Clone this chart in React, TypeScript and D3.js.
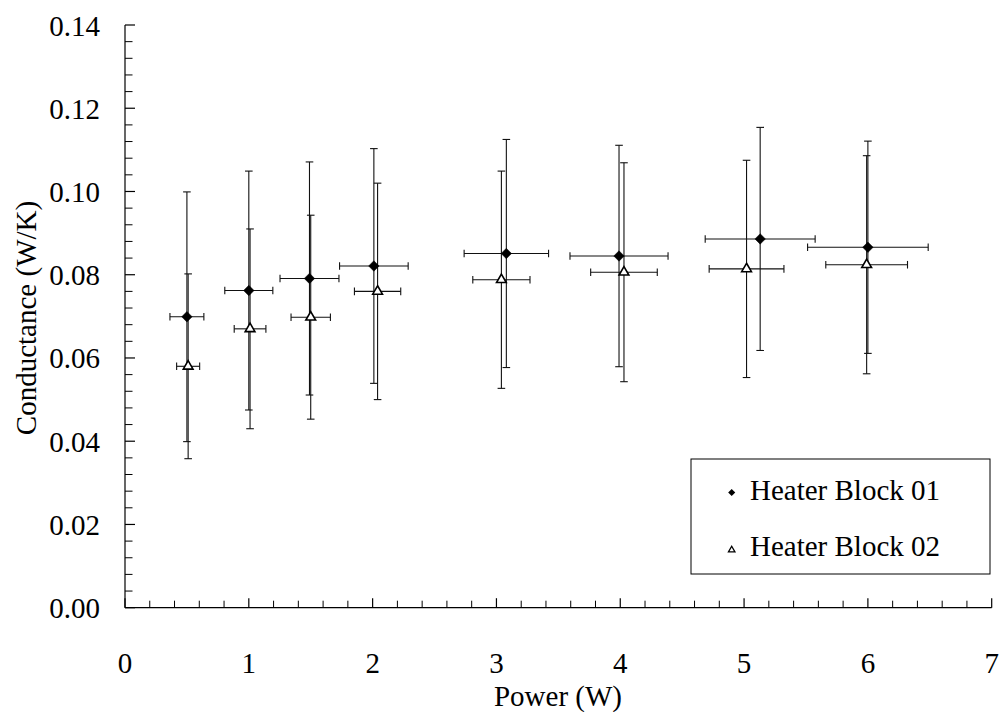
import React from "react";
import * as d3 from "d3";

const power1 = [0.5, 1.0, 1.49, 2.01, 3.08, 3.99, 5.13, 6.0];
const cond1 = [0.0699, 0.0762, 0.0791, 0.0821, 0.0851, 0.0845, 0.0886, 0.0866];
const condErr1 = [0.03, 0.0287, 0.028, 0.0282, 0.0274, 0.0266, 0.0268, 0.0255];
const powerErr1 = [0.137, 0.194, 0.238, 0.277, 0.341, 0.396, 0.444, 0.487];

const power2 = [0.51, 1.01, 1.5, 2.04, 3.04, 4.03, 5.02, 5.99];
const cond2 = [0.058, 0.067, 0.0698, 0.076, 0.0788, 0.0806, 0.0814, 0.0824];
const condErr2 = [0.0222, 0.024, 0.0245, 0.026, 0.0261, 0.0263, 0.0261, 0.0262];
const powerErr2 = [0.093, 0.128, 0.159, 0.187, 0.231, 0.269, 0.302, 0.33];

const xTicks = [0, 1, 2, 3, 4, 5, 6, 7];
const yTicks = [0, 0.02, 0.04, 0.06, 0.08, 0.1, 0.12, 0.14];
const seriesNames = ["Heater Block 01", "Heater Block 02"];

const FONT = '"Liberation Serif", "Times New Roman", Times, Tinos, "DejaVu Serif", serif';
const FS = 29;

export default function App() {
  const W = 1002, H = 712;
  const x = d3.scaleLinear().domain([0, 7]).range([125, 991.7]);
  const y = d3.scaleLinear().domain([0, 0.14]).range([607.7, 25]);

  const xMinor = d3.range(0, 35).map((i) => i * 0.2).filter((v) => Math.abs(v - Math.round(v)) > 1e-6);
  const yMinor = d3.range(0, 36).map((i) => i * 0.004).filter((v) => Math.abs(v / 0.02 - Math.round(v / 0.02)) > 1e-6 && v <= 0.14);

  const diamond = d3.symbol().type(d3.symbolDiamond2).size(70)();
  const triangle = d3.symbol().type(d3.symbolTriangle2).size(68)();
  const diamondL = d3.symbol().type(d3.symbolDiamond2).size(32)();
  const triangleL = d3.symbol().type(d3.symbolTriangle2).size(30)();

  const series = [
    { px: power1, py: cond1, ey: condErr1, ex: powerErr1, sym: diamond, fill: "#000" },
    { px: power2, py: cond2, ey: condErr2, ex: powerErr2, sym: triangle, fill: "#fff" },
  ];

  const cap = 3.8;
  const ts: React.CSSProperties = { fontFamily: FONT, fontSize: FS };

  return (
    <svg width={W} height={H} style={{ position: "absolute", left: 0, top: 0, background: "#fff", fontFamily: FONT }}>
      {/* axes */}
      <line x1={x(0)} x2={x(0)} y1={y(0.14)} y2={y(0)} stroke="#000" strokeWidth={1.2} />
      <line x1={x(0)} x2={x(7)} y1={y(0)} y2={y(0)} stroke="#000" strokeWidth={1.2} />
      {xTicks.map((t) => (
        <g key={"xt" + t}>
          <line x1={x(t)} x2={x(t)} y1={y(0)} y2={y(0) - 9.5} stroke="#000" strokeWidth={1.2} />
          <text x={x(t)} y={673} textAnchor="middle" style={ts}>{t}</text>
        </g>
      ))}
      {xMinor.map((t) => (
        <line key={"xm" + t} x1={x(t)} x2={x(t)} y1={y(0)} y2={y(0) - 7} stroke="#000" strokeWidth={1} />
      ))}
      {yTicks.map((t) => (
        <g key={"yt" + t}>
          <line x1={x(0)} x2={x(0) + 10} y1={y(t)} y2={y(t)} stroke="#000" strokeWidth={1.2} />
          <text x={100} y={y(t) + 10.5} textAnchor="end" style={ts}>{t.toFixed(2)}</text>
        </g>
      ))}
      {yMinor.map((t) => (
        <line key={"ym" + t} x1={x(0)} x2={x(0) + 7.5} y1={y(t)} y2={y(t)} stroke="#000" strokeWidth={1} />
      ))}
      <text x={558} y={706} textAnchor="middle" style={ts}>Power (W)</text>
      <text transform={`translate(36,318) rotate(-90)`} textAnchor="middle" style={ts}>Conductance (W/K)</text>

      {/* error bars */}
      {series.map((s, si) =>
        s.px.map((p, i) => {
          const cx = x(p), cy = y(s.py[i]);
          const y1 = y(s.py[i] + s.ey[i]), y2 = y(s.py[i] - s.ey[i]);
          const x1 = x(p - s.ex[i]), x2 = x(p + s.ex[i]);
          return (
            <g key={"e" + si + i} stroke="#111" strokeWidth={1.1} fill="none">
              <line x1={cx} x2={cx} y1={y1} y2={y2} />
              <line x1={cx - cap} x2={cx + cap} y1={y1} y2={y1} />
              <line x1={cx - cap} x2={cx + cap} y1={y2} y2={y2} />
              <line x1={x1} x2={x2} y1={cy} y2={cy} />
              <line x1={x1} x2={x1} y1={cy - cap} y2={cy + cap} />
              <line x1={x2} x2={x2} y1={cy - cap} y2={cy + cap} />
            </g>
          );
        })
      )}
      {/* markers */}
      {series.map((s, si) =>
        s.px.map((p, i) => (
          <path key={"m" + si + i} d={s.sym || ""} transform={`translate(${x(p)},${y(s.py[i])})`}
            fill={s.fill} stroke="#000" strokeWidth={si === 1 ? 1.6 : 0.5} />
        ))
      )}

      {/* legend */}
      <rect x={691} y={459} width={299} height={115} fill="#fff" stroke="#000" strokeWidth={1} />
      <path d={diamondL || ""} transform="translate(731.7,492.5)" fill="#000" />
      <text x={750} y={500} style={ts}>{seriesNames[0]}</text>
      <path d={triangleL || ""} transform="translate(731.7,550)" fill="#fff" stroke="#000" strokeWidth={1.3} />
      <text x={750} y={555.7} style={ts}>{seriesNames[1]}</text>
    </svg>
  );
}
